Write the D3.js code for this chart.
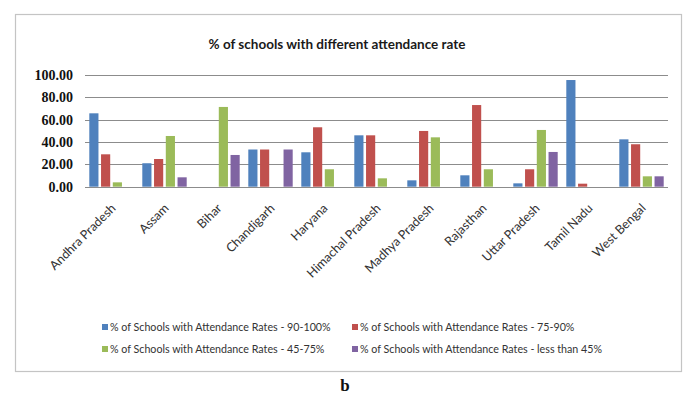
<!DOCTYPE html>
<html>
<head>
<meta charset="utf-8">
<script src="https://cdn.jsdelivr.net/npm/d3@7"></script>
<style>
  body { margin: 0; background: #fff; }
  svg { display: block; }
</style>
</head>
<body>
<div id="chart"></div>
<script>
const states = ["Andhra Pradesh", "Assam", "Bihar", "Chandigarh", "Haryana", "Himachal Pradesh",
    "Madhya Pradesh", "Rajasthan", "Uttar Pradesh", "Tamil Nadu", "West Bengal"];
const seriesNames = [
    "% of Schools with Attendance Rates - 90-100%",
    "% of Schools with Attendance Rates - 75-90%",
    "% of Schools with Attendance Rates - 45-75%",
    "% of Schools with Attendance Rates - less than 45%"
];
const rate90to100 = [65.7, 21.0, 0, 33.3, 30.8, 46.0, 5.7, 10.2, 3.0, 95.5, 42.4];
const rate75to90 = [29.0, 24.8, 0, 33.3, 53.2, 46.0, 49.9, 73.1, 15.6, 2.7, 38.0];
const rate45to75 = [3.9, 45.4, 71.4, 0, 15.6, 7.5, 44.2, 15.6, 50.8, 0, 9.3];
const rateBelow45 = [0, 8.4, 28.4, 33.3, 0, 0, 0, 0, 31.1, 0, 9.3];
const yTicks = [0, 20, 40, 60, 80, 100];
const colors = ["#4f81bd", "#c0504d", "#9bbb59", "#8064a2"];

const width = 689, height = 394;
const allSeries = [rate90to100, rate75to90, rate45to75, rateBelow45];

const svg = d3.select("#chart").append("svg")
    .attr("width", width)
    .attr("height", height);

// outer chart frame
svg.append("rect")
    .attr("x", 15.5).attr("y", 14.5)
    .attr("width", 666).attr("height", 357)
    .attr("fill", "none")
    .attr("stroke", "#c4c4c4")
    .attr("stroke-width", 1.2);

svg.append("text")
    .attr("x", 337).attr("y", 49)
    .attr("text-anchor", "middle")
    .style("font-family", "Lato, 'Open Sans', sans-serif")
    .style("font-weight", "bold")
    .style("font-size", "13.5px")
    .attr("fill", "#1a1a1a")
    .text("% of schools with different attendance rate");

const x = d3.scaleBand()
    .domain(states)
    .range([85, 668]);

const xSub = d3.scaleBand()
    .domain(d3.range(4))
    .range([4.3, x.bandwidth() - 4.3])
    .paddingInner(0.22);

const y = d3.scaleLinear()
    .domain([0, 100])
    .range([186.7, 75]);

// grid lines
svg.append("g")
    .selectAll("line")
    .data(yTicks)
    .enter()
    .append("line")
    .attr("x1", 85).attr("x2", 668)
    .attr("y1", d => Math.round(y(d)) + 0.5)
    .attr("y2", d => Math.round(y(d)) + 0.5)
    .attr("stroke", "#8c8c8c")
    .attr("stroke-width", 1);

// y tick labels
svg.append("g")
    .selectAll("text")
    .data(yTicks)
    .enter()
    .append("text")
    .attr("x", 73)
    .attr("y", d => y(d) + 5)
    .attr("text-anchor", "end")
    .style("font-family", "'Liberation Serif', serif")
    .style("font-weight", "bold")
    .style("font-size", "14px")
    .attr("fill", "#111")
    .text(d => d.toFixed(2));

// bars
const groups = svg.append("g")
    .selectAll("g")
    .data(states)
    .enter()
    .append("g")
    .attr("transform", d => "translate(" + x(d) + ",0)");

groups.selectAll("rect")
    .data((d, i) => allSeries.map((s, k) => ({ k: k, v: s[i] })))
    .enter()
    .append("rect")
    .attr("x", d => xSub(d.k))
    .attr("width", xSub.bandwidth())
    .attr("y", d => y(d.v))
    .attr("height", d => y(0) - y(d.v))
    .attr("fill", d => colors[d.k]);

// x labels
svg.append("g")
    .selectAll("text")
    .data(states)
    .enter()
    .append("text")
    .attr("transform", d => "translate(" + (x(d) + x.bandwidth() / 2 + 5) + ",209) rotate(-45)")
    .attr("text-anchor", "end")
    .style("font-family", "Lato, 'Open Sans', sans-serif")
    .style("font-size", "12.5px")
    .attr("fill", "#333")
    .text(d => d);

// legend
const legendPos = [[102, 331], [352, 331], [102, 353], [352, 353]];
const legend = svg.append("g")
    .selectAll("g")
    .data(seriesNames)
    .enter()
    .append("g")
    .attr("transform", (d, i) => "translate(" + legendPos[i][0] + "," + legendPos[i][1] + ")");

legend.append("rect")
    .attr("x", 0).attr("y", -7)
    .attr("width", 6).attr("height", 6)
    .attr("fill", (d, i) => colors[i]);

legend.append("text")
    .attr("x", 8).attr("y", 0)
    .style("font-family", "Lato, 'Open Sans', sans-serif")
    .style("font-size", "10.7px")
    .attr("fill", "#333")
    .text(d => d);

svg.append("text")
    .attr("x", 345).attr("y", 391)
    .attr("text-anchor", "middle")
    .style("font-family", "'Liberation Serif', serif")
    .style("font-weight", "bold")
    .style("font-size", "17px")
    .attr("fill", "#111")
    .text("b");
</script>
</body>
</html>
